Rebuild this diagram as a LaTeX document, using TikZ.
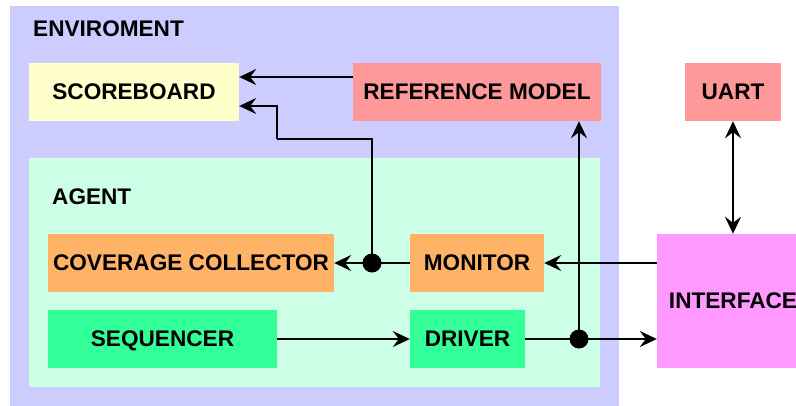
\documentclass[tikz,border=0pt]{standalone}
\usepackage{fontspec}
\setmainfont{Liberation Sans}
\usetikzlibrary{arrows.meta}

\definecolor{envcol}{HTML}{CCCCFF}
\definecolor{agentcol}{HTML}{CCFFE6}
\definecolor{sbcol}{HTML}{FFFFCC}
\definecolor{refcol}{HTML}{FF9999}
\definecolor{covcol}{HTML}{FFB366}
\definecolor{seqcol}{HTML}{33FF99}
\definecolor{ifcol}{HTML}{FF99FF}

\tikzset{
  block/.style={inner sep=0pt, text depth=0pt, font=\fontsize{22.6}{26}\selectfont\bfseries,
    minimum height=58pt},
  area/.style={inner sep=0pt},
  label/.style={anchor=base west, inner sep=0pt, font=\fontsize{22.6}{26}\selectfont\bfseries},
  conn/.style={line width=2pt},
  arr/.style={conn, -{Stealth[length=17pt,width=16pt,inset=6pt]}},
  biarr/.style={conn, {Stealth[length=17pt,width=16pt,inset=6pt]}-{Stealth[length=17pt,width=16pt,inset=6pt]}},
  dot/.style={circle, fill=black, inner sep=0pt, minimum size=19pt}
}

\begin{document}
\begin{tikzpicture}[x=1pt, y=-1pt]
\useasboundingbox (0,0) rectangle (796,405);
\begin{scope}
\clip (0,0) rectangle (796,405);

% containers
\node[area, fill=envcol, minimum width=609pt, minimum height=400pt] (env) at (314.5,206) {};
\node[area, fill=agentcol, minimum width=571pt, minimum height=229pt] (agent) at (314.5,272.5) {};
\node[label] (envlabel) at (33,36.7) {ENVIROMENT};
\node[label] (agentlabel) at (52,204.5) {AGENT};

% blocks
\node[block, fill=sbcol, minimum width=210pt] (sb) at (134,92) {SCOREBOARD};
\node[block, fill=refcol, minimum width=248pt] (ref) at (477,92) {REFERENCE MODEL};
\node[block, fill=refcol, minimum width=96pt] (uart) at (733,92) {UART};
\node[block, fill=covcol, minimum width=286pt] (cov) at (191,263) {COVERAGE COLLECTOR};
\node[block, fill=covcol, minimum width=134pt] (mon) at (477,263) {MONITOR};
\node[block, fill=seqcol, minimum width=229pt] (seq) at (162.5,339) {SEQUENCER};
\node[block, fill=seqcol, minimum width=115pt] (drv) at (467.5,339) {DRIVER};
\node[block, fill=ifcol, minimum width=152pt, minimum height=134pt] (intf) at (733,301) {INTERFACE};

% junctions and bends
\coordinate (j1) at (372,263);
\coordinate (j2) at (579,339);
\coordinate (k2) at (277,139);

% connectors
\draw[arr] ([yshift=15pt]ref.west) -- ([yshift=15pt]sb.east);
\draw[conn] (j1) |- (k2);
\draw[arr] (k2) |- ([yshift=-14pt]sb.east);
\draw[arr] (mon.west) -- (cov.east);
\draw[arr] ([yshift=38pt]intf.west) -- (mon.east);
\draw[arr] (seq.east) -- (drv.west);
\draw[arr] (drv.east) -- ([yshift=-38pt]intf.west);
\draw[arr] (j2) -- (j2 |- ref.south);
\draw[biarr] (uart.south) -- (intf.north);

\node[dot] (d1) at (j1) {};
\node[dot] (d2) at (j2) {};
\end{scope}
\end{tikzpicture}
\end{document}
